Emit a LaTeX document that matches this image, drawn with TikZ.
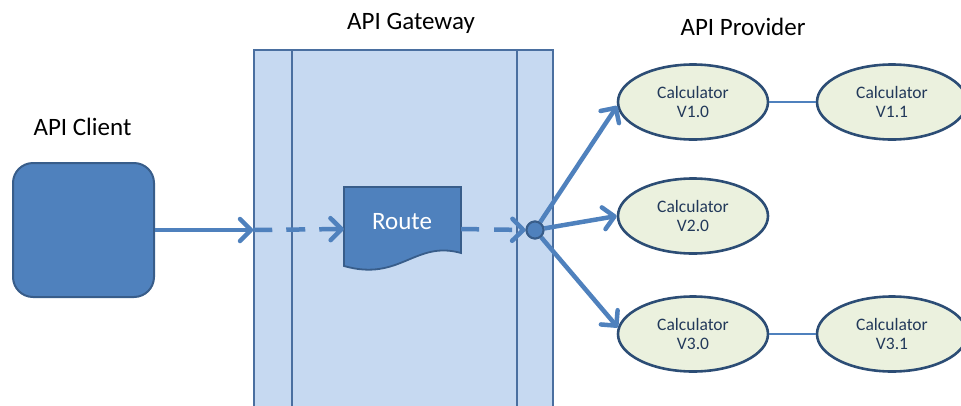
\documentclass[tikz,border=0pt]{standalone}
\usepackage{fontspec}
\setmainfont{Carlito}
\usetikzlibrary{arrows.meta,shapes.geometric,calc}
\definecolor{boxblue}{HTML}{4F81BD}
\definecolor{boxedge}{HTML}{385D8A}
\definecolor{gwfill}{HTML}{C6D9F1}
\definecolor{gwedge}{HTML}{4A6FA0}
\definecolor{verfill}{HTML}{EBF1DE}
\definecolor{veredge}{HTML}{2C4D75}
\definecolor{vertext}{HTML}{22395A}
\tikzset{
  heading/.style={font=\fontsize{25}{28}\selectfont, anchor=base, inner sep=0pt},
  flow/.style={line width=4.5pt, draw=boxblue,
    -{Straight Barb[length=11pt,width=22pt,round]}},
  dashflow/.style={flow, dash pattern=on 19pt off 14pt},
  version/.style={ellipse, draw=veredge, line width=2.6pt, fill=verfill,
    minimum width=150pt, minimum height=75pt, inner sep=0pt, align=center,
    text=vertext, font=\fontsize{17.5}{19}\selectfont},
  link/.style={draw=boxblue, line width=1.5pt},
  hub/.style={circle, draw=boxedge, fill=boxblue, line width=2pt,
    minimum size=17pt, inner sep=0pt},
}
\begin{document}
\begin{tikzpicture}[x=1pt,y=-1pt]
  \useasboundingbox (0,0) rectangle (961,405);
  \clip (0,0) rectangle (961,405);

  % gateway column with its two inner rails
  \node[draw=gwedge, fill=gwfill, line width=1.5pt, minimum width=299pt,
        minimum height=380pt, inner sep=0pt] (gw) at (403.5,240) {};
  \draw[gwedge, line width=1.5pt] (292,50) -- (292,420) (517,50) -- (517,420);

  % headings
  \node[heading] (hclient) at (82.5,135) {API Client};
  \node[heading] (hgw) at (411,29) {API Gateway};
  \node[heading] (hprov) at (743,35) {API Provider};

  % client
  \node[draw=boxedge, fill=boxblue, line width=2pt, rounded corners=20pt,
        minimum width=141pt, minimum height=134pt, inner sep=0pt]
        (client) at (83.5,230) {};

  % route (document shape) and its anchor box
  \node[minimum width=117pt, minimum height=84pt, inner sep=0pt] (route) at (402.5,229) {};
  \draw[draw=boxedge, fill=boxblue, line width=1.8pt]
    (344,187) -- (461,187) -- (461,253)
    .. controls (415,240) and (400,282) .. (344,266) -- cycle;
  \node[anchor=base, text=white, font=\fontsize{25}{28}\selectfont, inner sep=0pt]
    (routetext) at (402,229) {Route};

  % versions
  \node[version] (v10) at (693,102) {Calculator\\V1.0};
  \node[version] (v11) at (892,102) {Calculator\\V1.1};
  \node[version] (v20) at (693,216) {Calculator\\V2.0};
  \node[version] (v30) at (693,334) {Calculator\\V3.0};
  \node[version] (v31) at (892,334) {Calculator\\V3.1};
  \draw[link] (v10) -- (v11);
  \draw[link] (v30) -- (v31);

  % dispatch point
  \node[hub] (dot) at (535,230) {};

  % request flow
  \coordinate (gwin) at (client.east -| gw.west);
  \draw[flow] (client.east) -- (gwin);
  \draw[dashflow] (gwin) -- (route.west);
  \draw[dashflow, dash pattern=on 18pt off 15pt] (route.east) -- (dot.west);
  \draw[flow] (dot) -- (v10.183);
  \draw[flow] (dot) -- (v20.west);
  \draw[flow] (dot) -- (v30.175);
  \node[hub] (dottop) at (dot) {};
\end{tikzpicture}
\end{document}
